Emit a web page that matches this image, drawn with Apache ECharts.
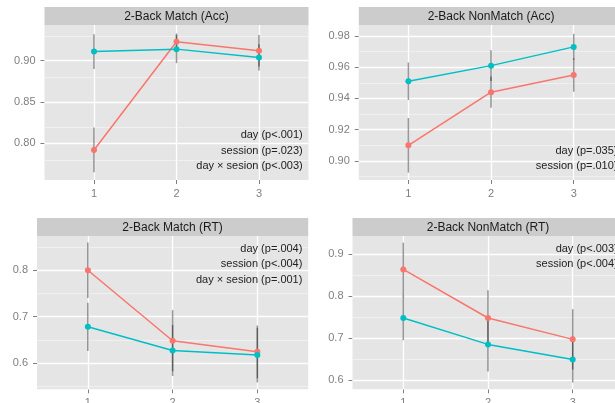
<!DOCTYPE html>
<html>
<head>
<meta charset="utf-8">
<script src="https://cdn.jsdelivr.net/npm/echarts@6/dist/echarts.min.js"></script>
<style>
  html, body { margin: 0; padding: 0; background: #fff; }
  #chart { width: 615px; height: 403px; }
</style>
</head>
<body>
<div id="chart"></div>
<script>
// ---- data ----
const days = [1, 2, 3];

const panelTitles = [
  '2-Back Match (Acc)',
  '2-Back NonMatch (Acc)',
  '2-Back Match (RT)',
  '2-Back NonMatch (RT)'
];

const matchAccNotes = ['day (p<.001)', 'session (p=.023)', 'day \u00d7 sesion (p<.003)'];
const nonMatchAccNotes = ['day (p=.035)', 'session (p=.010)'];
const matchRtNotes = ['day (p=.004)', 'session (p<.004)', 'day \u00d7 sesion (p=.001)'];
const nonMatchRtNotes = ['day (p<.003)', 'session (p<.004)'];

// session 1 (red) and session 2 (teal): means and error half-widths
const matchAccS1 = [0.792, 0.923, 0.912];
const matchAccS1Err = [0.027, 0.010, 0.019];
const matchAccS2 = [0.911, 0.914, 0.904];
const matchAccS2Err = [0.021, 0.017, 0.016];

const nonMatchAccS1 = [0.910, 0.944, 0.955];
const nonMatchAccS1Err = [0.0175, 0.010, 0.0107];
const nonMatchAccS2 = [0.951, 0.961, 0.973];
const nonMatchAccS2Err = [0.012, 0.0098, 0.0083];

const matchRtS1 = [0.800, 0.648, 0.624];
const matchRtS1Err = [0.060, 0.066, 0.057];
const matchRtS2 = [0.678, 0.627, 0.617];
const matchRtS2Err = [0.052, 0.055, 0.059];

const nonMatchRtS1 = [0.864, 0.748, 0.697];
const nonMatchRtS1Err = [0.064, 0.066, 0.072];
const nonMatchRtS2 = [0.748, 0.685, 0.649];
const nonMatchRtS2Err = [0.053, 0.065, 0.055];

// y ranges, major ticks and minor grid values
const matchAccRange = [0.7556, 0.9432];
const matchAccTicks = [0.80, 0.85, 0.90];
const matchAccMinor = [0.775, 0.825, 0.875, 0.925];

const nonMatchAccRange = [0.8878, 0.9870];
const nonMatchAccTicks = [0.90, 0.92, 0.94, 0.96, 0.98];
const nonMatchAccMinor = [0.89, 0.91, 0.93, 0.95, 0.97];

const matchRtRange = [0.5432, 0.8740];
const matchRtTicks = [0.6, 0.7, 0.8];
const matchRtMinor = [0.55, 0.65, 0.75, 0.85];

const nonMatchRtRange = [0.5778, 0.9437];
const nonMatchRtTicks = [0.6, 0.7, 0.8, 0.9];
const nonMatchRtMinor = [0.65, 0.75, 0.85];

// ---- layout / style ----
const RED = '#F8766D';
const TEAL = '#00BFC4';
const TICK_GREY = '#7F7F7F';
const FONT = '"Liberation Sans", Arial, Helvetica, sans-serif';

const panels = [
  { title: panelTitles[0], notes: matchAccNotes, range: matchAccRange, ticks: matchAccTicks, minor: matchAccMinor, digits: 2,
    s1: matchAccS1, e1: matchAccS1Err, s2: matchAccS2, e2: matchAccS2Err,
    box: { left: 44.5, top: 25, width: 264, height: 155 } },
  { title: panelTitles[1], notes: nonMatchAccNotes, range: nonMatchAccRange, ticks: nonMatchAccTicks, minor: nonMatchAccMinor, digits: 2,
    s1: nonMatchAccS1, e1: nonMatchAccS1Err, s2: nonMatchAccS2, e2: nonMatchAccS2Err,
    box: { left: 358.8, top: 25, width: 264.5, height: 155 } },
  { title: panelTitles[2], notes: matchRtNotes, range: matchRtRange, ticks: matchRtTicks, minor: matchRtMinor, digits: 1,
    s1: matchRtS1, e1: matchRtS1Err, s2: matchRtS2, e2: matchRtS2Err,
    box: { left: 37, top: 236, width: 271.2, height: 153.3 } },
  { title: panelTitles[3], notes: nonMatchRtNotes, range: nonMatchRtRange, ticks: nonMatchRtTicks, minor: nonMatchRtMinor, digits: 1,
    s1: nonMatchRtS1, e1: nonMatchRtS1Err, s2: nonMatchRtS2, e2: nonMatchRtS2Err,
    box: { left: 352.5, top: 236, width: 271, height: 153.3 } }
];

const STRIP_H = 18;

const grid = [], xAxis = [], yAxis = [], series = [], graphic = [];

function errorBarSeries(idx, means, errs) {
  return {
    type: 'custom',
    xAxisIndex: idx, yAxisIndex: idx,
    z: 3,
    silent: true,
    data: days.map((d, i) => [d, means[i] - errs[i], means[i] + errs[i]]),
    renderItem(params, api) {
      const a = api.coord([api.value(0), api.value(1)]);
      const b = api.coord([api.value(0), api.value(2)]);
      return {
        type: 'line',
        shape: { x1: a[0], y1: a[1], x2: b[0], y2: b[1] },
        style: { stroke: 'rgba(0,0,0,0.4)', lineWidth: 1.5 }
      };
    }
  };
}

function meanSeries(idx, means, color) {
  return {
    type: 'line',
    xAxisIndex: idx, yAxisIndex: idx,
    z: 4,
    silent: true,
    data: days.map((d, i) => [d, means[i]]),
    symbol: 'circle',
    symbolSize: 6,
    lineStyle: { color, width: 1.5 },
    itemStyle: { color },
    emphasis: { disabled: true }
  };
}

function gridLineSeries(idx, values, color, width, zLevel) {
  return {
    type: 'line', xAxisIndex: idx, yAxisIndex: idx, data: [], z: zLevel, silent: true,
    markLine: {
      z: zLevel,
      silent: true, symbol: 'none', animation: false,
      label: { show: false },
      lineStyle: { color, width, type: 'solid' },
      emphasis: { disabled: true },
      data: values
    }
  };
}

panels.forEach((p, idx) => {
  const b = p.box;
  grid.push({
    left: b.left, top: b.top, width: b.width, height: b.height,
    show: true, backgroundColor: '#E5E5E5', borderWidth: 0,
    containLabel: false,
    outerBoundsMode: 'none'
  });

  xAxis.push({
    type: 'value', gridIndex: idx, min: 0.4, max: 3.6,
    axisLine: { show: false },
    axisTick: { show: true, customValues: days, length: 4, lineStyle: { color: TICK_GREY, width: 1 } },
    axisLabel: { customValues: days, color: TICK_GREY, fontSize: 11, fontFamily: FONT, margin: 8.5 },
    splitLine: { show: false }
  });

  yAxis.push({
    type: 'value', gridIndex: idx, min: p.range[0], max: p.range[1],
    axisLine: { show: false },
    axisTick: { show: true, customValues: p.ticks, length: 4, lineStyle: { color: TICK_GREY, width: 1 } },
    axisLabel: {
      customValues: p.ticks, color: TICK_GREY, fontSize: 11, fontFamily: FONT, margin: 9,
      formatter: v => Number(v).toFixed(p.digits)
    },
    splitLine: { show: false }
  });

  // panel grid lines: minor (light) below major (white)
  series.push(gridLineSeries(idx, p.minor.map(v => ({ yAxis: v })), '#F2F2F2', 0.8, 1));
  series.push(gridLineSeries(idx,
    p.ticks.map(v => ({ yAxis: v })).concat(days.map(d => ({ xAxis: d }))), '#FFFFFF', 1.3, 2));

  series.push(errorBarSeries(idx, p.s1, p.e1));
  series.push(errorBarSeries(idx, p.s2, p.e2));
  series.push(meanSeries(idx, p.s1, RED));
  series.push(meanSeries(idx, p.s2, TEAL));

  // facet strip
  graphic.push({
    type: 'rect', silent: true,
    shape: { x: b.left, y: b.top - STRIP_H, width: b.width, height: STRIP_H },
    style: { fill: '#CCCCCC' }
  });
  graphic.push({
    type: 'text', silent: true,
    x: b.left + b.width / 2, y: b.top - STRIP_H / 2 + 0.5,
    style: { text: p.title, fill: '#1A1A1A', font: '12px ' + FONT, align: 'center', verticalAlign: 'middle' }
  });

  // effect annotations, right aligned
  const rightX = b.left + b.width - 5.8;
  const n = p.notes.length;
  p.notes.forEach((t, k) => {
    const y = idx < 2
      ? b.top + b.height - 14 - (n - 1 - k) * 15.5
      : b.top + 12.5 + k * 15.6;
    graphic.push({
      type: 'text', silent: true, z: 10,
      x: rightX, y: y,
      style: { text: t, fill: '#222222', font: '11px ' + FONT, align: 'right', verticalAlign: 'middle' }
    });
  });
});

const chart = echarts.init(document.getElementById('chart'), null, { renderer: 'canvas' });
chart.setOption({
  animation: false,
  backgroundColor: '#FFFFFF',
  grid, xAxis, yAxis, series, graphic
});
</script>
</body>
</html>
